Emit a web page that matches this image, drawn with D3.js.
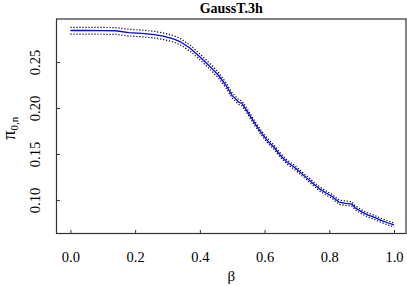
<!DOCTYPE html>
<html>
<head>
<meta charset="utf-8">
<script src="https://cdn.jsdelivr.net/npm/d3@7"></script>
<style>
  body { margin: 0; background: #fff; }
  text { font-family: "Liberation Serif", "Times New Roman", serif; }
</style>
</head>
<body>
<div id="chart"></div>
<script>
var beta = [0, 0.05, 0.10, 0.14, 0.18, 0.22, 0.26, 0.29, 0.32, 0.34, 0.37, 0.40, 0.42, 0.44, 0.46, 0.48,
    0.50, 0.52, 0.53, 0.55, 0.57, 0.59, 0.61, 0.63, 0.65, 0.67, 0.69, 0.71, 0.73, 0.75, 0.77, 0.79,
    0.81, 0.83, 0.85, 0.87, 0.88, 0.90, 0.92, 0.94, 0.96, 0.98, 1.00];
var pi0n = [0.2843, 0.2843, 0.2842, 0.2840, 0.2820, 0.2812, 0.2797, 0.2780, 0.2750, 0.2720, 0.2650, 0.2555,
    0.2490, 0.2420, 0.2345, 0.2250, 0.2135, 0.2065, 0.2050, 0.1945, 0.1830, 0.1730, 0.1640, 0.1570,
    0.1480, 0.1410, 0.1360, 0.1300, 0.1240, 0.1180, 0.1120, 0.1075, 0.1035, 0.0975, 0.0962, 0.0955,
    0.0915, 0.0870, 0.0835, 0.0810, 0.0778, 0.0752, 0.0728];
var upper = [0.2877, 0.2877, 0.2876, 0.2875, 0.2856, 0.2848, 0.2833, 0.2815, 0.2785, 0.2755, 0.2684, 0.2588,
    0.2522, 0.2451, 0.2375, 0.2279, 0.2163, 0.2092, 0.2077, 0.1971, 0.1855, 0.1754, 0.1664, 0.1593,
    0.1503, 0.1433, 0.1383, 0.1322, 0.1262, 0.1202, 0.1142, 0.1097, 0.1057, 0.0999, 0.0988, 0.0980,
    0.0937, 0.0892, 0.0857, 0.0832, 0.0800, 0.0774, 0.0750];
var lower = [0.2803, 0.2803, 0.2802, 0.2801, 0.2782, 0.2775, 0.2761, 0.2744, 0.2715, 0.2686, 0.2617, 0.2523,
    0.2459, 0.2390, 0.2316, 0.2222, 0.2108, 0.2039, 0.2024, 0.1920, 0.1806, 0.1707, 0.1617, 0.1548,
    0.1458, 0.1388, 0.1338, 0.1278, 0.1218, 0.1158, 0.1098, 0.1053, 0.1013, 0.0953, 0.0940, 0.0933,
    0.0893, 0.0848, 0.0813, 0.0788, 0.0756, 0.0730, 0.0706];
var xTicks = [0, 0.2, 0.4, 0.6, 0.8, 1.0];
var yTicks = [0.10, 0.15, 0.20, 0.25];

var w = 407, h = 286;
var padL = 56.5, padR = 406, padT = 19, padB = 233.5;

var svg = d3.select("#chart").append("svg")
    .attr("width", w)
    .attr("height", h);

var xScale = d3.scaleLinear().domain([-0.043, 1.037]).range([padL, padR]);
var yScale = d3.scaleLinear().domain([0.0635, 0.2968]).range([padB, padT]);

//x axis
var xAxis = d3.axisBottom(xScale).tickValues(xTicks).tickFormat(d3.format(".1f"))
    .tickSizeInner(-3.5).tickSizeOuter(0).tickPadding(18);
var gx = svg.append("g")
    .attr("transform", "translate(0," + padB + ")")
    .call(xAxis);
gx.select(".domain").remove();
gx.selectAll("line").attr("stroke", "#333");
gx.selectAll("text").style("font-size", "14.5px").attr("fill", "#000");

//y axis
var yAxis = d3.axisLeft(yScale).tickValues(yTicks).tickFormat(d3.format(".2f"))
    .tickSizeInner(-3.5).tickSizeOuter(0);
var gy = svg.append("g")
    .attr("transform", "translate(" + padL + ",0)")
    .call(yAxis);
gy.select(".domain").remove();
gy.selectAll("line").attr("stroke", "#333");
gy.selectAll("text")
    .attr("transform", "rotate(-90)")
    .attr("x", 0)
    .attr("y", -17)
    .attr("dy", 0)
    .attr("text-anchor", "middle")
    .attr("fill", "#000")
    .style("font-size", "14.5px");

//box
svg.append("rect")
    .attr("x", padL).attr("y", padT)
    .attr("width", padR - padL).attr("height", padB - padT)
    .attr("fill", "none")
    .attr("stroke", "#333")
    .attr("stroke-width", 1.2);

var idx = d3.range(beta.length);
function lineOf(arr) {
    return d3.line()
        .x(function (i) { return xScale(beta[i]); })
        .y(function (i) { return yScale(arr[i]); })(idx);
}

svg.append("path")
    .attr("d", lineOf(upper))
    .attr("fill", "none")
    .attr("stroke", "#000")
    .attr("stroke-width", 1.2)
    .attr("stroke-dasharray", "1.2,1.8");

svg.append("path")
    .attr("d", lineOf(lower))
    .attr("fill", "none")
    .attr("stroke", "#000")
    .attr("stroke-width", 1.2)
    .attr("stroke-dasharray", "1.2,1.8");

svg.append("path")
    .attr("d", lineOf(pi0n))
    .attr("fill", "none")
    .attr("stroke", "#0000ff")
    .attr("stroke-width", 1.3);

//title
svg.append("text")
    .attr("x", (padL + padR) / 2)
    .attr("y", 13)
    .attr("text-anchor", "middle")
    .style("font-size", "14px")
    .style("font-weight", "bold")
    .text("GaussT.3h");

svg.append("text")
    .attr("x", (padL + padR) / 2)
    .attr("y", 281)
    .attr("text-anchor", "middle")
    .style("font-size", "15px")
    .text("β");

var yl = svg.append("text")
    .attr("transform", "translate(15," + ((padT + padB) / 2 + 2) + ") rotate(-90)")
    .attr("text-anchor", "middle")
    .style("font-size", "18px");
yl.append("tspan").text("π");
yl.append("tspan").attr("dy", 3).style("font-size", "11px").text("0,n");
</script>
</body>
</html>
